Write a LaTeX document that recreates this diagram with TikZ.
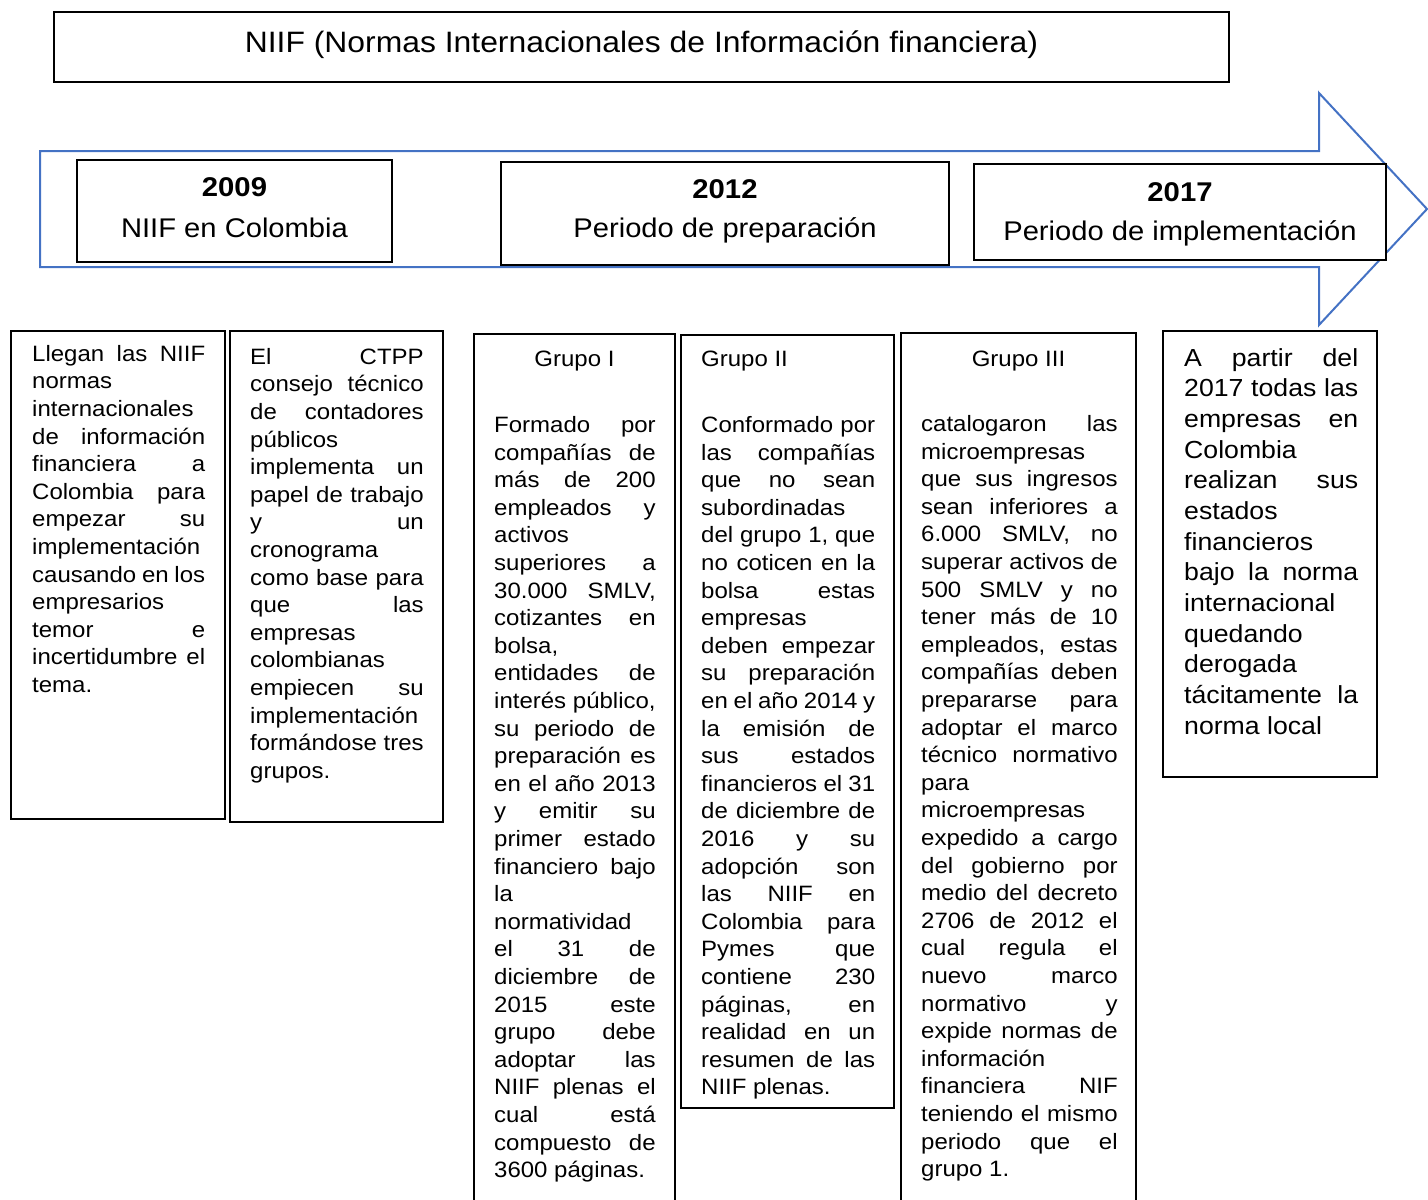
\documentclass[tikz,border=0pt]{standalone}
\usepackage{fontspec}
\setmainfont{Liberation Sans}
\newfontfamily\arialx[FakeStretch=1.08]{Liberation Sans}
\usepackage{tikz}
\usetikzlibrary{calc,positioning}
\definecolor{azulflecha}{HTML}{4472C4}
\newcommand\cuerpofont{\arialx\fontsize{22.22}{27.6}\selectfont}
\newcommand\grandefont{\arialx\fontsize{24.69}{30.67}\selectfont}
\newcommand\titfont{\arialx\fontsize{29.5}{34}\selectfont}
\newcommand\aniofont{\arialx\bfseries\fontsize{27.1}{31}\selectfont}
\newcommand\subaniofont{\arialx\fontsize{27}{31}\selectfont}
\setlength\parindent{0pt}
\frenchspacing
\tolerance=10000
\hbadness=10000
\hyphenpenalty=10000
\exhyphenpenalty=10000
\tikzset{
	caja/.style={draw=black,line width=1.5pt,fill=white,inner sep=0pt,outer sep=0pt,anchor=north west},
	cuerpo/.style={inner sep=0pt,anchor=north west,align=justify,font=\cuerpofont},
	encabezado/.style={inner sep=0pt,anchor=base,font=\cuerpofont},
	anio/.style={inner sep=0pt,anchor=base,font=\aniofont},
	subanio/.style={inner sep=0pt,anchor=base,font=\subaniofont},
}
\begin{document}
\begin{tikzpicture}[x=1pt,y=-1pt]
	\useasboundingbox (0,0) rectangle (1428,1200);
	\clip (0,0) rectangle (1428,1200);
	% titulo
	\node (titulo) [caja,minimum width=1175,minimum height=70] at (54,12) {};
	\node (titxt) [inner sep=0pt,anchor=base,font=\titfont] at ($(titulo.north)+(0,40.3)$) {NIIF (Normas Internacionales de Información financiera)};
	% flecha de tiempo
	\draw[azulflecha,line width=2pt,line join=miter] (40,151) -- ++(1279,0) -- ++(0,-58) -- (1427,209) -- (1319,325) -- ++(0,-58) -- (40,267) -- cycle;
	% anios
	\node (anio1) [caja,minimum width=315,minimum height=102] at (77,160) {};
	\node (anio1a) [anio] at ($(anio1.north)+(0,36)$) {2009};
	\node (anio1b) [subanio] at ($(anio1.north)+(0,77)$) {NIIF en Colombia};
	\node (anio2) [caja,minimum width=448,minimum height=103] at (501,162) {};
	\node (anio2a) [anio] at ($(anio2.north)+(0,36)$) {2012};
	\node (anio2b) [subanio] at ($(anio2.north)+(0,75.5)$) {Periodo de preparación};
	\node (anio3) [caja,minimum width=412,minimum height=96] at (974,164) {};
	\node (anio3a) [anio] at ($(anio3.north)+(0,37)$) {2017};
	\node (anio3b) [subanio] at ($(anio3.north)+(0,76)$) {Periodo de implementación};
	% cajas de texto
	\node (llegan) [caja,minimum width=214,minimum height=488] at (11,331) {};
	\node (llegantxt) [cuerpo,text width=173] at ($(llegan.north west)+(21,10.68)$) {\strut Llegan las NIIF\linebreak
		normas\linebreak
		internacionales\linebreak
		de información\linebreak
		financiera a\linebreak
		Colombia para\linebreak
		empezar su\linebreak
		implementación\linebreak
		causando en los\linebreak
		empresarios\linebreak
		temor e\linebreak
		incertidumbre el\linebreak
		tema.};
	\node (ctpp) [caja,minimum width=213,minimum height=491] at (230,331) {};
	\node (ctpptxt) [cuerpo,text width=173.5] at ($(ctpp.north west)+(20,13.68)$) {\strut El CTPP\linebreak
		consejo técnico\linebreak
		de contadores\linebreak
		públicos\linebreak
		implementa un\linebreak
		papel de trabajo\linebreak
		y un\linebreak
		cronograma\linebreak
		como base para\linebreak
		que las\linebreak
		empresas\linebreak
		colombianas\linebreak
		empiecen su\linebreak
		implementación\linebreak
		formándose tres\linebreak
		grupos.};
	\node (grupo1) [caja,minimum width=201,minimum height=876] at (474,334) {};
	\node (grupo1h) [encabezado] at ($(grupo1.north)+(0,32.5)$) {Grupo I};
	\node (grupo1txt) [cuerpo,text width=161.5] at ($(grupo1.north west)+(20,79)$) {\strut Formado por\linebreak
		compañías de\linebreak
		más de 200\linebreak
		empleados y\linebreak
		activos\linebreak
		superiores a\linebreak
		30.000 SMLV,\linebreak
		cotizantes en\linebreak
		bolsa,\linebreak
		entidades de\linebreak
		interés público,\linebreak
		su periodo de\linebreak
		preparación es\linebreak
		en el año 2013\linebreak
		y emitir su\linebreak
		primer estado\linebreak
		financiero bajo\linebreak
		la\linebreak
		normatividad\linebreak
		el 31 de\linebreak
		diciembre de\linebreak
		2015 este\linebreak
		grupo debe\linebreak
		adoptar las\linebreak
		NIIF plenas el\linebreak
		cual está\linebreak
		compuesto de\linebreak
		3600 páginas.};
	\node (grupo2) [caja,minimum width=213,minimum height=773] at (681,335) {};
	\node (grupo2h) [encabezado,anchor=base west] at ($(grupo2.north west)+(20,31.5)$) {Grupo II};
	\node (grupo2txt) [cuerpo,text width=174] at ($(grupo2.north west)+(20,78)$) {\strut Conformado por\linebreak
		las compañías\linebreak
		que no sean\linebreak
		subordinadas\linebreak
		del grupo 1, que\linebreak
		no coticen en la\linebreak
		bolsa estas\linebreak
		empresas\linebreak
		deben empezar\linebreak
		su preparación\linebreak
		en el año 2014 y\linebreak
		la emisión de\linebreak
		sus estados\linebreak
		financieros el 31\linebreak
		de diciembre de\linebreak
		2016 y su\linebreak
		adopción son\linebreak
		las NIIF en\linebreak
		Colombia para\linebreak
		Pymes que\linebreak
		contiene 230\linebreak
		páginas, en\linebreak
		realidad en un\linebreak
		resumen de las\linebreak
		NIIF plenas.};
	\node (grupo3) [caja,minimum width=235,minimum height=877] at (901,333) {};
	\node (grupo3h) [encabezado] at ($(grupo3.north)+(0,33.5)$) {Grupo III};
	\node (grupo3txt) [cuerpo,text width=196.5] at ($(grupo3.north west)+(20,79)$) {\strut catalogaron las\linebreak
		microempresas\linebreak
		que sus ingresos\linebreak
		sean inferiores a\linebreak
		6.000 SMLV, no\linebreak
		superar activos de\linebreak
		500 SMLV y no\linebreak
		tener más de 10\linebreak
		empleados, estas\linebreak
		compañías deben\linebreak
		prepararse para\linebreak
		adoptar el marco\linebreak
		técnico normativo\linebreak
		para\linebreak
		microempresas\linebreak
		expedido a cargo\linebreak
		del gobierno por\linebreak
		medio del decreto\linebreak
		2706 de 2012 el\linebreak
		cual regula el\linebreak
		nuevo marco\linebreak
		normativo y\linebreak
		expide normas de\linebreak
		información\linebreak
		financiera NIF\linebreak
		teniendo el mismo\linebreak
		periodo que el\linebreak
		grupo 1.};
	\node (desde2017) [caja,minimum width=214,minimum height=446] at (1163,331) {};
	\node (desde2017txt) [cuerpo,font=\grandefont,text width=174] at ($(desde2017.north west)+(21,13.5)$) {\strut A partir del\linebreak
		2017 todas las\linebreak
		empresas en\linebreak
		Colombia\linebreak
		realizan sus\linebreak
		estados\linebreak
		financieros\linebreak
		bajo la norma\linebreak
		internacional\linebreak
		quedando\linebreak
		derogada\linebreak
		tácitamente la\linebreak
		norma local};
\end{tikzpicture}
\end{document}
